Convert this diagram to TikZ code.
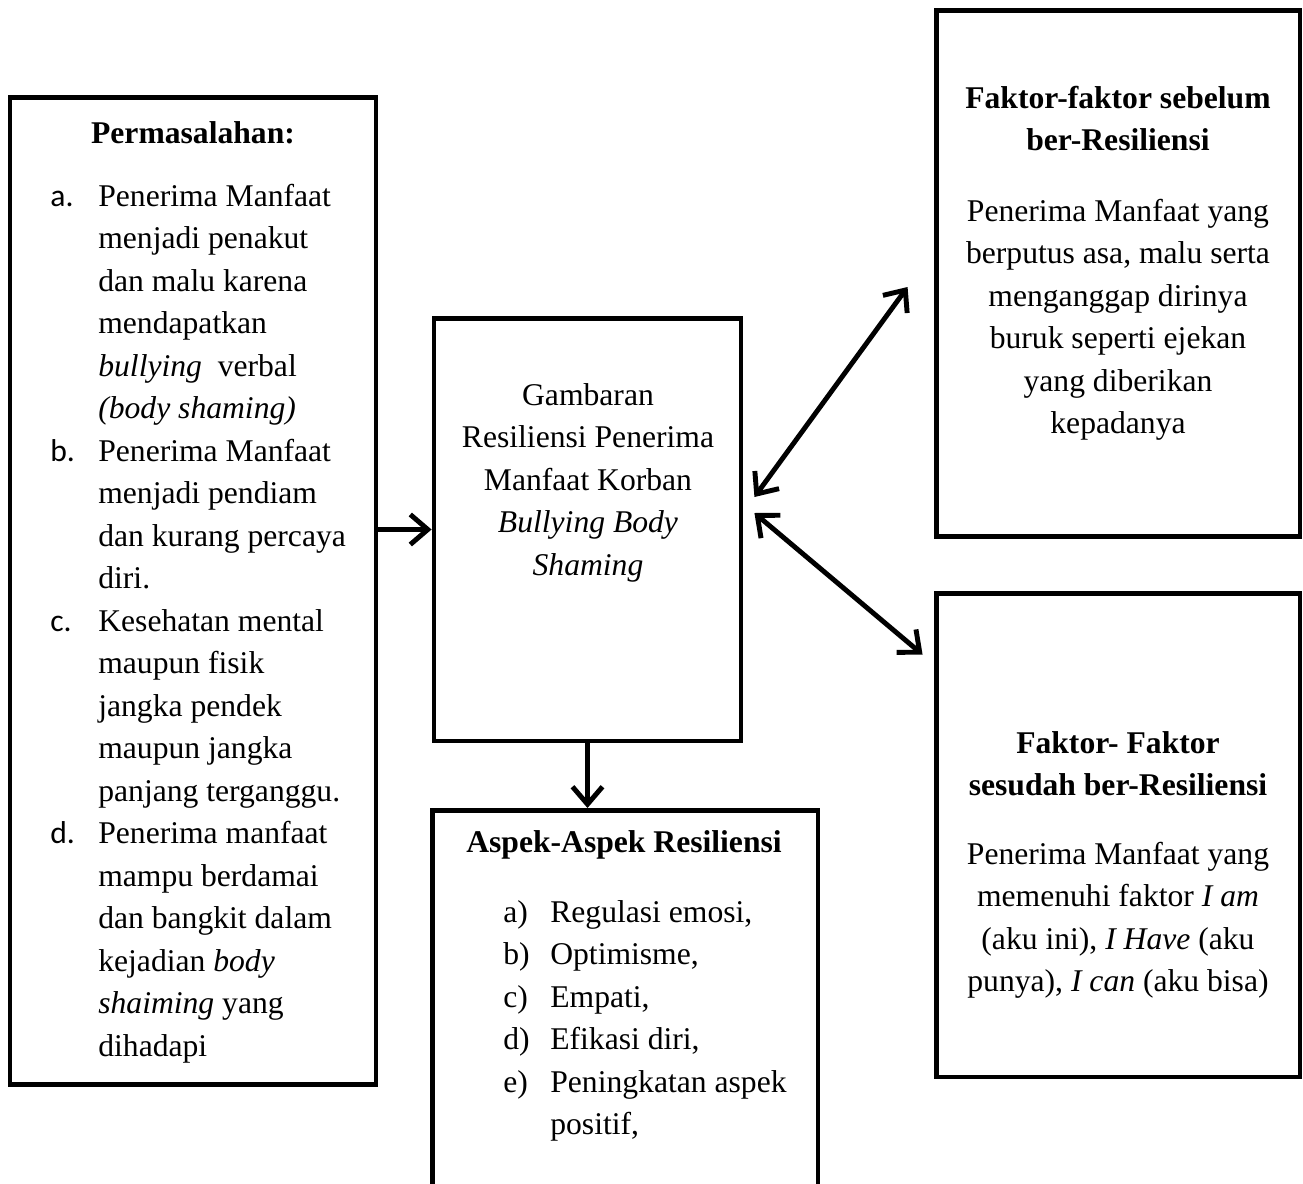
\documentclass[tikz,border=0pt]{standalone}
\usepackage{fontspec}
\setmainfont{Liberation Serif}
\newfontfamily\calibri{Carlito}
\usepackage{tikz}
\usetikzlibrary{positioning, arrows.meta}
\tikzset{
    kotak/.style={draw, line width=2.8pt, inner sep=0pt},
    teks/.style={inner sep=0pt, font=\fontsize{18}{24.2}\selectfont},
    judul/.style={inner sep=0pt, font=\fontsize{18}{24.2}\selectfont\bfseries},
    panah/.style={line width=2.8pt, -{Straight Barb[length=3.5mm, width=6mm]}},
    panahdua/.style={line width=2.8pt, {Straight Barb[length=3.5mm, width=6mm]}-{Straight Barb[length=3.5mm, width=6mm]}}
}

\begin{document}
\begin{tikzpicture}[x=0.02cm, y=-0.02cm]
\useasboundingbox (0,0) rectangle (1303,1184);
% kotak-kotak
\node[kotak, minimum width=7.32cm, minimum height=19.76cm] (masalah) at (193,591) {};
\node[kotak, minimum width=6.14cm, minimum height=8.46cm] (gambaran) at (587.5,529.5) {};
\node[kotak, minimum width=7.72cm, minimum height=8.8cm, anchor=north] (aspek) at (625,808) {};
\node[kotak, minimum width=7.28cm, minimum height=10.54cm] (sebelum) at (1118,273.5) {};
\node[kotak, minimum width=7.28cm, minimum height=9.68cm] (sesudah) at (1118,835) {};

% isi kotak
\node[judul, anchor=base] (jmasalah) at (193,143) {Permasalahan:};
\node[teks, anchor=base west] (imasalah) at (50,206) {\begin{tabular}[t]{@{}p{0.96cm}@{}l@{}}
    {\calibri a.} & Penerima Manfaat\\
    & menjadi penakut\\
    & dan malu karena\\
    & mendapatkan\\
    & \textit{bullying}\ \ verbal\\
    & \textit{(body shaming)}\\
    {\calibri b.} & Penerima Manfaat\\
    & menjadi pendiam\\
    & dan kurang percaya\\
    & diri.\\
    {\calibri c.} & Kesehatan mental\\
    & maupun fisik\\
    & jangka pendek\\
    & maupun jangka\\
    & panjang terganggu.\\
    {\calibri d.} & Penerima manfaat\\
    & mampu berdamai\\
    & dan bangkit dalam\\
    & kejadian \textit{body}\\
    & \textit{shaiming} yang\\
    & dihadapi
\end{tabular}};

\node[teks, anchor=base] (igambaran) at (588,405) {\begin{tabular}[t]{@{}c@{}}
    Gambaran\\
    Resiliensi Penerima\\
    Manfaat Korban\\
    \textit{Bullying Body}\\
    \textit{Shaming}
\end{tabular}};

\node[judul, anchor=base] (jaspek) at (624,852) {Aspek-Aspek Resiliensi};
\node[teks, anchor=base west] (iaspek) at (503,922) {\begin{tabular}[t]{@{}p{0.94cm}@{}l@{}}
    a) & Regulasi emosi,\\
    b) & Optimisme,\\
    c) & Empati,\\
    d) & Efikasi diri,\\
    e) & Peningkatan aspek\\
    & positif,
\end{tabular}};

\node[teks, anchor=base] (isebelum) at (1118,108) {\begin{tabular}[t]{@{}c@{}}
    \textbf{Faktor-faktor sebelum}\\
    \textbf{ber-Resiliensi}\\[0.56cm]
    Penerima Manfaat yang\\
    berputus asa, malu serta\\
    menganggap dirinya\\
    buruk seperti ejekan\\
    yang diberikan\\
    kepadanya
\end{tabular}};

\node[teks, anchor=base] (isesudah) at (1118,753) {\begin{tabular}[t]{@{}c@{}}
    \textbf{Faktor- Faktor}\\
    \textbf{sesudah ber-Resiliensi}\\[0.52cm]
    Penerima Manfaat yang\\
    memenuhi faktor \textit{I am}\\
    (aku ini), \textit{I Have} (aku\\
    punya), \textit{I can} (aku bisa)
\end{tabular}};

% panah
\draw[panah] (masalah.east |- gambaran.west) -- (gambaran.west);
\draw[panah] (gambaran.south) -- (gambaran.south |- aspek.north);
\draw[panahdua] ([shift={(11,-32.5)}]gambaran.east) -- ([shift={(-26,13.5)}]sebelum.west);
\draw[panahdua] ([shift={(11,-16.5)}]gambaran.east) -- ([shift={(-11,64)}]sesudah.north west);
\end{tikzpicture}
\end{document}
